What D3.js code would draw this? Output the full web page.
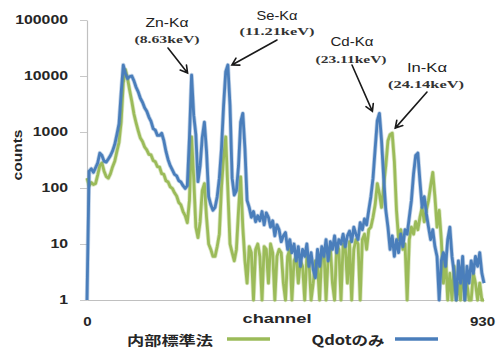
<!DOCTYPE html>
<html>
<head>
<meta charset="utf-8">
<script src="https://cdn.jsdelivr.net/npm/d3@7"></script>
<style>
  html, body { margin: 0; padding: 0; background: #fff; }
  svg { display: block; }
</style>
</head>
<body>
<svg id="chart" width="497" height="349"></svg>
<script>
// XRF spectra: counts per channel (sampled every 5 channels, 0..930)
const channelStep = 5;
const channelMax = 930;

// 内部標準法 (internal standard)
const internalStdCounts = [
  150, 110, 125, 115, 120, 170, 250, 280, 200, 160,
  150, 180, 240, 300, 450, 650, 1500, 7500, 13000, 9000,
  5500, 3500, 2100, 1450, 1050, 780, 680, 540, 480, 400,
  390, 310, 295, 240, 235, 180, 175, 135, 128, 105,
  98, 82, 72, 55, 50, 38, 32, 24, 60, 820,
  150, 20, 13, 25, 90, 120, 30, 10, 8, 6,
  6, 9, 15, 100, 350, 820, 90, 10, 7, 5,
  8, 40, 158, 20, 5, 2, 9, 7, 1, 8,
  10, 6, 1, 9, 8, 2, 10, 7, 1, 6,
  8, 7, 2, 1, 6, 8, 1, 5, 6, 2,
  5, 4, 1, 6, 5, 1, 2, 5, 4, 1,
  7, 8, 1, 6, 9, 2, 1, 10, 8, 1,
  10, 9, 2, 11, 1, 8, 12, 10, 1, 12,
  15, 8, 18, 20, 30, 50, 120, 80, 45, 110,
  250, 700, 900, 955, 300, 40, 12, 18, 8, 10,
  1, 12, 20, 15, 25, 18, 30, 45, 25, 40,
  60, 110, 190, 70, 20, 40, 12, 2, 6, 1,
  3, 1, 4, 1, 2, 1, 4, 1, 2, 1,
  1, 3, 2, 1, 2, 1, 1
];

// Qdotのみ (quantum dots only)
const qdotCounts = [
  1, 200, 220, 190, 230, 280, 420, 380, 300, 290,
  330, 380, 460, 600, 900, 1400, 5000, 15700, 11000, 9000,
  9800, 10000, 8200, 6300, 5200, 4000, 3400, 2700, 2350, 1850,
  1550, 1150, 1080, 870, 870, 950, 700, 450, 320, 250,
  210, 175, 165, 135, 128, 110, 98, 110, 800, 10400,
  2000, 900, 130, 250, 800, 1500, 450, 70, 50, 40,
  45, 70, 150, 500, 3000, 12000, 15700, 3000, 150, 75,
  90, 250, 1500, 2150, 500, 60, 45, 30, 38, 25,
  32, 26, 38, 22, 36, 30, 20, 26, 14, 22,
  18, 11, 14, 16, 8, 12, 7, 10, 5, 9,
  4, 8, 6, 10, 4, 7, 3.5, 2.5, 8, 4,
  9, 6, 12, 5, 11, 8, 14, 7, 12, 10,
  15, 9, 14, 17, 11, 20, 15, 12, 24, 18,
  28, 22, 40, 70, 150, 500, 1600, 2150, 700, 150,
  40, 20, 8, 14, 6, 12, 7, 15, 9, 18,
  15, 30, 60, 180, 380, 420, 130, 45, 70, 35,
  20, 12, 18, 9, 6, 1, 5, 7, 4, 12,
  20, 6, 3, 1, 5, 2, 6, 1, 4, 2,
  5, 3, 6, 4, 7, 3, 2
];

const yTicks = [1, 10, 100, 1000, 10000, 100000];
const xTicks = [0, 930];

const seriesNames = ["内部標準法", "Qdotのみ"];
const seriesColors = ["#9bbb59", "#4a7ebb"];

// Peak annotations: element line, energy, peak channel/count of the series pointed at
const peakLabels = ["Zn-Kα", "Se-Kα", "Cd-Kα", "In-Kα"];
const peakEnergies = ["(8.63keV)", "(11.21keV)", "(23.11keV)", "(24.14keV)"];
const peakChannels = [245, 330, 685, 715];
const peakCounts = [10400, 15700, 2150, 955];

// layout of the annotation texts and arrow tails
const labelPos = [[167, 22], [277, 15], [352, 41], [427, 67]];
const energyPos = [[167, 39], [277, 31], [351, 59], [426, 84]];
const labelWidths = [43, 41, 43, 40];
const energyWidths = [65, 75, 71, 76];
const arrowTails = [[168, 48], [277, 40], [352, 65], [427, 92]];
const arrowTipOffsets = [[-4, -2], [4, 0], [-7, -2], [3, -5]];

const svg = d3.select("#chart");
const margin = { left: 87, right: 484, top: 20, bottom: 300 };

const x = d3.scaleLinear().domain([0, channelMax]).range([margin.left, margin.right]);
const y = d3.scaleLog().domain([1, 100000]).range([margin.bottom, margin.top]);

const toPoints = counts => counts.map((c, i) => [i * channelStep, c]);
const seriesData = [toPoints(internalStdCounts), toPoints(qdotCounts)];

// Y axis
const yAxis = d3.axisLeft(y)
  .tickValues(yTicks)
  .tickFormat(d3.format("d"))
  .tickSize(7)
  .tickSizeOuter(0)
  .tickPadding(12);
const gy = svg.append("g")
  .attr("transform", `translate(${margin.left},0)`)
  .call(yAxis);
gy.select(".domain").attr("stroke", "#c0c0c0").attr("stroke-width", 1.2);
gy.selectAll(".tick line").attr("stroke", "#c8c8c8");
gy.selectAll(".tick text")
  .attr("font-family", "'Liberation Sans', Arial, sans-serif")
  .attr("font-size", 12)
  .attr("font-weight", "bold")
  .attr("fill", "#262626")
  .attr("textLength", d => String(d).length * 8.8)
  .attr("lengthAdjust", "spacingAndGlyphs");

// X axis
const xAxis = d3.axisBottom(x)
  .tickValues(xTicks)
  .tickFormat(d3.format("d"))
  .tickSize(0)
  .tickSizeOuter(0)
  .tickPadding(17);
const gx = svg.append("g")
  .attr("transform", `translate(0,${margin.bottom})`)
  .call(xAxis);
gx.select(".domain").attr("stroke", "#c0c0c0").attr("stroke-width", 1.2);
gx.selectAll(".tick text")
  .attr("font-family", "'Liberation Sans', Arial, sans-serif")
  .attr("font-size", 12)
  .attr("font-weight", "bold")
  .attr("fill", "#262626")
  .attr("dx", d => d === channelMax ? -2 : 0)
  .attr("textLength", d => String(d).length * 8.4)
  .attr("lengthAdjust", "spacingAndGlyphs");

// Axis titles
svg.append("text")
  .attr("x", 277).attr("y", 318)
  .attr("text-anchor", "middle")
  .attr("dominant-baseline", "central")
  .attr("font-family", "'Liberation Sans', Arial, sans-serif")
  .attr("font-size", 13)
  .attr("font-weight", "bold")
  .attr("fill", "#262626")
  .attr("textLength", 69)
  .attr("lengthAdjust", "spacingAndGlyphs")
  .text("channel");

svg.append("text")
  .attr("transform", "translate(17,155) rotate(-90)")
  .attr("text-anchor", "middle")
  .attr("dominant-baseline", "central")
  .attr("font-family", "'Liberation Sans', Arial, sans-serif")
  .attr("font-size", 13)
  .attr("font-weight", "bold")
  .attr("fill", "#262626")
  .attr("textLength", 51)
  .attr("lengthAdjust", "spacingAndGlyphs")
  .text("counts");

// Spectra
const line = d3.line()
  .x(d => x(d[0]))
  .y(d => y(Math.max(1, d[1])));

const plot = svg.append("g");
seriesData.forEach((data, i) => {
  plot.append("path")
    .datum(data)
    .attr("fill", "none")
    .attr("stroke", seriesColors[i])
    .attr("stroke-opacity", 0.35)
    .attr("stroke-width", 4.4)
    .attr("stroke-linejoin", "round")
    .attr("d", line);
  plot.append("path")
    .datum(data)
    .attr("fill", "none")
    .attr("stroke", seriesColors[i])
    .attr("stroke-width", 2.8)
    .attr("stroke-linejoin", "round")
    .attr("d", line);
});

// Peak annotations
const ann = svg.append("g").attr("fill", "#222");
peakLabels.forEach((lab, i) => {
  ann.append("text")
    .attr("x", labelPos[i][0]).attr("y", labelPos[i][1])
    .attr("text-anchor", "middle")
    .attr("dominant-baseline", "central")
    .attr("font-family", "'Liberation Sans', Arial, sans-serif")
    .attr("font-size", 13)
    .attr("textLength", labelWidths[i])
    .attr("lengthAdjust", "spacingAndGlyphs")
    .text(lab);
  ann.append("text")
    .attr("x", energyPos[i][0]).attr("y", energyPos[i][1])
    .attr("text-anchor", "middle")
    .attr("dominant-baseline", "central")
    .attr("font-family", "'Liberation Serif', 'Times New Roman', serif")
    .attr("font-size", 11)
    .attr("font-weight", "bold")
    .attr("fill", "#333")
    .attr("textLength", energyWidths[i])
    .attr("lengthAdjust", "spacingAndGlyphs")
    .text(peakEnergies[i]);

  const tx = x(peakChannels[i]) + arrowTipOffsets[i][0];
  const ty = y(peakCounts[i]) + arrowTipOffsets[i][1];
  const [sx, sy] = arrowTails[i];
  const ang = Math.atan2(ty - sy, tx - sx);
  const hl = 8, ha = Math.PI / 6;
  const p = d3.path();
  p.moveTo(sx, sy); p.lineTo(tx, ty);
  p.moveTo(tx - hl * Math.cos(ang - ha), ty - hl * Math.sin(ang - ha));
  p.lineTo(tx, ty);
  p.lineTo(tx - hl * Math.cos(ang + ha), ty - hl * Math.sin(ang + ha));
  ann.append("path")
    .attr("d", p.toString())
    .attr("fill", "none")
    .attr("stroke", "#1a1a1a")
    .attr("stroke-width", 1.6)
    .attr("stroke-linecap", "round");
});

// Legend
const legendText = [[170, 86], [348, 73]];
const legendLine = [[227, 270], [395, 438]];
seriesNames.forEach((name, i) => {
  svg.append("text")
    .attr("x", legendText[i][0]).attr("y", 339)
    .attr("text-anchor", "middle")
    .attr("dominant-baseline", "central")
    .attr("font-family", "'Noto Sans CJK JP', 'Noto Sans', sans-serif")
    .attr("font-size", 13)
    .attr("font-weight", "bold")
    .attr("fill", "#262626")
    .attr("textLength", legendText[i][1])
    .attr("lengthAdjust", "spacingAndGlyphs")
    .text(name);
  svg.append("line")
    .attr("x1", legendLine[i][0]).attr("x2", legendLine[i][1])
    .attr("y1", 339).attr("y2", 339)
    .attr("stroke", seriesColors[i])
    .attr("stroke-width", 3.5);
});
</script>
</body>
</html>
